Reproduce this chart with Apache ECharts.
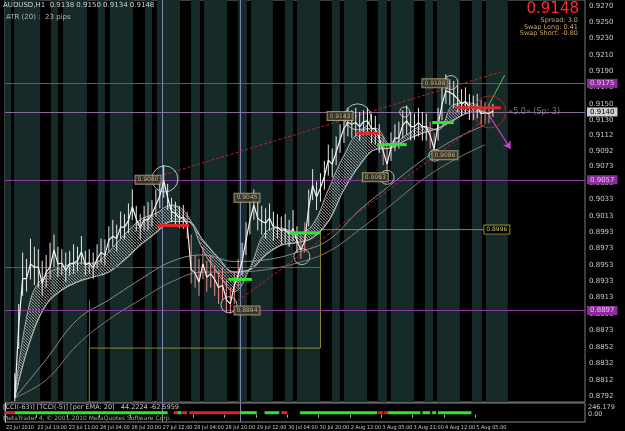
<!DOCTYPE html>
<html>
<head>
<meta charset="utf-8">
<script src="https://cdn.jsdelivr.net/npm/echarts@6/dist/echarts.min.js"></script>
<style>
html, body { margin: 0; padding: 0; background: #000; }
#chart { width: 625px; height: 431px; }
</style>
</head>
<body>
<div id="chart"></div>
<script>
// AUDUSD H1, 22 Jul - 5 Aug 2010
// x = hourly bar number counted from 22 Jul 2010 03:00
var FIRST_BAR = 5, STEP = 2;          // price sampled every 2 bars
var MA_STEP = 8, LONG_STEP = 16;

var closes = [
  0.8790, 0.8878, 0.8936, 0.8936, 0.8954, 0.8950, 0.8950, 0.8930, 0.8944, 0.8950,
  0.8971, 0.8954, 0.8955, 0.8946, 0.8954, 0.8955, 0.8958, 0.8969, 0.8953, 0.8955,
  0.8949, 0.8960, 0.8968, 0.8965, 0.8983, 0.8988, 0.8985, 0.8999, 0.8999, 0.9007,
  0.9024, 0.9009, 0.8998, 0.9008, 0.9008, 0.9015, 0.9026, 0.9037, 0.9056, 0.9035,
  0.9018, 0.9016, 0.9010, 0.9011, 0.9002, 0.8947, 0.8943, 0.8932, 0.8954, 0.8938,
  0.8942, 0.8935, 0.8925, 0.8928, 0.8910, 0.8905, 0.8927, 0.8941, 0.8957, 0.8983,
  0.9008, 0.9026, 0.9010, 0.9006, 0.9004, 0.9010, 0.8999, 0.8999, 0.8995, 0.8996,
  0.8991, 0.8997, 0.8982, 0.8971, 0.8982, 0.9023, 0.9050, 0.9036, 0.9047, 0.9061,
  0.9081, 0.9076, 0.9091, 0.9106, 0.9120, 0.9127, 0.9125, 0.9127, 0.9122, 0.9128,
  0.9129, 0.9120, 0.9119, 0.9108, 0.9092, 0.9076, 0.9097, 0.9108, 0.9108, 0.9124,
  0.9129, 0.9122, 0.9122, 0.9127, 0.9122, 0.9122, 0.9111, 0.9095, 0.9124, 0.9149,
  0.9166, 0.9164, 0.9161, 0.9156, 0.9150, 0.9153, 0.9146, 0.9145, 0.9146, 0.9138,
  0.9139, 0.9138, 0.9141
];
var highs = [
  0.8820, 0.8905, 0.8968, 0.8960, 0.8985, 0.8975, 0.8972, 0.8958, 0.8965, 0.8980,
  0.8990, 0.8975, 0.8972, 0.8968, 0.8970, 0.8978, 0.8975, 0.8988, 0.8970, 0.8972,
  0.8968, 0.8978, 0.8985, 0.8984, 0.9000, 0.9008, 0.9002, 0.9018, 0.9015, 0.9028,
  0.9045, 0.9025, 0.9015, 0.9025, 0.9030, 0.9032, 0.9045, 0.9056, 0.9075, 0.9052,
  0.9035, 0.9030, 0.9025, 0.9026, 0.9018, 0.8990, 0.8965, 0.8960, 0.8975, 0.8958,
  0.8965, 0.8952, 0.8945, 0.8950, 0.8935, 0.8925, 0.8945, 0.8960, 0.8980, 0.9005,
  0.9030, 0.9045, 0.9030, 0.9025, 0.9022, 0.9028, 0.9018, 0.9015, 0.9012, 0.9015,
  0.9008, 0.9020, 0.9000, 0.8990, 0.9005, 0.9045, 0.9070, 0.9055, 0.9065, 0.9080,
  0.9100, 0.9095, 0.9110, 0.9125, 0.9140, 0.9145, 0.9142, 0.9145, 0.9140, 0.9142,
  0.9145, 0.9138, 0.9135, 0.9125, 0.9110, 0.9095, 0.9115, 0.9125, 0.9128, 0.9142,
  0.9148, 0.9140, 0.9138, 0.9145, 0.9140, 0.9138, 0.9128, 0.9115, 0.9145, 0.9170,
  0.9186, 0.9180, 0.9178, 0.9172, 0.9168, 0.9170, 0.9162, 0.9160, 0.9162, 0.9155,
  0.9152, 0.9150, 0.9150
];
var lows = [
  0.8786, 0.8850, 0.8915, 0.8920, 0.8935, 0.8928, 0.8925, 0.8915, 0.8925, 0.8935,
  0.8950, 0.8938, 0.8940, 0.8932, 0.8940, 0.8942, 0.8945, 0.8955, 0.8940, 0.8942,
  0.8936, 0.8948, 0.8955, 0.8952, 0.8968, 0.8975, 0.8970, 0.8985, 0.8984, 0.8992,
  0.9008, 0.8994, 0.8984, 0.8995, 0.8995, 0.9000, 0.9012, 0.9022, 0.9035, 0.9020,
  0.9005, 0.9002, 0.8998, 0.8997, 0.8985, 0.8930, 0.8925, 0.8915, 0.8935, 0.8920,
  0.8925, 0.8915, 0.8905, 0.8910, 0.8895, 0.8893, 0.8905, 0.8925, 0.8940, 0.8965,
  0.8990, 0.9008, 0.8995, 0.8990, 0.8985, 0.8995, 0.8982, 0.8985, 0.8978, 0.8980,
  0.8975, 0.8982, 0.8968, 0.8960, 0.8968, 0.9000, 0.9032, 0.9020, 0.9030, 0.9045,
  0.9062, 0.9060, 0.9075, 0.9090, 0.9102, 0.9110, 0.9108, 0.9110, 0.9105, 0.9112,
  0.9112, 0.9102, 0.9100, 0.9090, 0.9075, 0.9065, 0.9080, 0.9092, 0.9095, 0.9108,
  0.9112, 0.9105, 0.9106, 0.9110, 0.9105, 0.9105, 0.9095, 0.9082, 0.9105, 0.9130,
  0.9150, 0.9148, 0.9145, 0.9140, 0.9135, 0.9138, 0.9130, 0.9130, 0.9132, 0.9124,
  0.9125, 0.9126, 0.9134
];

// moving averages (every 8 bars / every 16 bars)
var maFast = [0.8790, 0.8910, 0.8941, 0.8950, 0.8955, 0.8955, 0.8969, 0.8990, 0.9008, 0.9016,
  0.9026, 0.9014, 0.8971, 0.8941, 0.8920, 0.8949, 0.8993, 0.8998, 0.8991, 0.9002,
  0.9045, 0.9087, 0.9116, 0.9120, 0.9100, 0.9112, 0.9122, 0.9118, 0.9149, 0.9151, 0.9142];
var maSlow = [0.8790, 0.8861, 0.8904, 0.8922, 0.8932, 0.8938, 0.8944, 0.8959, 0.8977, 0.8992,
  0.9006, 0.9006, 0.8983, 0.8961, 0.8944, 0.8947, 0.8965, 0.8977, 0.8980, 0.8986,
  0.9006, 0.9045, 0.9075, 0.9094, 0.9096, 0.9106, 0.9114, 0.9120, 0.9130, 0.9139, 0.9140];
var maLong1 = [0.8790, 0.8837, 0.8886, 0.8910, 0.8935, 0.8957, 0.8965, 0.8957, 0.8959, 0.8968,
  0.8983, 0.9020, 0.9051, 0.9081, 0.9106, 0.9124];
var maLong2 = [0.8790, 0.8812, 0.8855, 0.8886, 0.8910, 0.8932, 0.8944, 0.8944, 0.8947, 0.8955,
  0.8969, 0.8996, 0.9026, 0.9057, 0.9081, 0.9100];

// axes
var timeTicks = [0, 16, 32, 48, 64, 80, 96, 112, 128, 144, 160, 176, 192, 208, 224, 240];
var timeLabels = ['22 Jul 2010', '22 Jul 19:00', '23 Jul 11:00', '26 Jul 04:00', '26 Jul 20:00',
  '27 Jul 12:00', '28 Jul 04:00', '28 Jul 20:00', '29 Jul 12:00', '30 Jul 04:00', '30 Jul 20:00',
  '2 Aug 12:00', '3 Aug 05:00', '3 Aug 21:00', '4 Aug 12:00', '5 Aug 05:00'];
var priceTicks = [0.9270, 0.9250, 0.9230, 0.9210, 0.9190, 0.9170, 0.9150, 0.9130, 0.9112, 0.9092,
  0.9073, 0.9053, 0.9033, 0.9013, 0.8993, 0.8973, 0.8953, 0.8933, 0.8913, 0.8893,
  0.8873, 0.8852, 0.8832, 0.8812, 0.8792];
var cciTicks = [246.179, 0, -186.209];

// shaded sessions (bar ranges)
var sessionStart = [0, 4.6, 23.5, 29.6, 47.4, 53.6, 71.4, 77.6, 94.9, 101.5, 118.9,
  125.5, 142.9, 149, 166.8, 173, 190.3, 196.9, 214.3, 220.4, 238.3, 245.4];
var sessionEnd = [3.1, 17.9, 27, 41.8, 51, 65.3, 75, 89.3, 99.5, 113.3, 123.5,
  136.7, 147, 160.7, 170.9, 184.7, 194.9, 208.7, 218.4, 232.1, 243.4, 256.6];

// levels
var purpleLevels = [0.9175, 0.9057, 0.8897];
var bidLevel = 0.9140;
var shortLevel = 0.8950, shortLevelEnd = 161;
var stepBars = [43, 43, 161, 161, 252];
var stepVals = [0.8785, 0.8851, 0.8851, 0.8996, 0.8996];

// support / resistance segments: start bar, end bar, level, 1 = green / -1 = red
var segStart = [78, 179, 230, 114, 145, 190, 218];
var segEnd = [94, 191, 253, 126, 161, 205, 229];
var segLevel = [0.9001, 0.9114, 0.9145, 0.8935, 0.8992, 0.9100, 0.9127];
var segDir = [-1, -1, -1, 1, 1, 1, 1];

// channel lines
var trendFrom = [[81, 0.9063], [115, 0.8902]];
var trendTo = [[253, 0.9189], [250, 0.9140]];

// fractal circles and price tags
var circBars = [81.6, 114.3, 151.5, 180, 195, 204, 219.4, 227.6];
var circVals = [0.9058, 0.8904, 0.8963, 0.9134, 0.9060, 0.9140, 0.9087, 0.9176];
var tagBars = [73, 123.5, 123.5, 171, 189, 224.5, 219.4];
var tagVals = [0.9057, 0.9035, 0.8897, 0.9135, 0.9060, 0.9087, 0.9175];
var tagText = ['0.9080', '0.9045', '0.8894', '0.9143', '0.9063', '0.9086', '0.9186'];

// CCI trend strip: start bar, end bar, 1 = up / -1 = down
var cciStart = [0, 5, 86, 88, 90, 94, 120, 132.5, 141, 150.5, 190.5, 193.5, 195.5, 213, 218, 221];
var cciEnd = [5, 83, 88, 90, 93, 120, 128.5, 140, 144, 190, 193, 195.5, 212, 217, 220, 238];
var cciDir = [-1, 1, -1, 1, -1, -1, 1, 1, -1, 1, -1, -1, 1, 1, 1, 1];

// ---------------------------------------------------------------
var circSize = [26, 16, 16, 26, 14, 10, 12, 14];
var FONT = 'DejaVu Sans';
var COND = "'DejaVu Sans Condensed', 'DejaVu Sans', sans-serif";
var PURPLE = '#8a3a9c';

var hatch = document.createElement('canvas');
hatch.width = 3; hatch.height = 3;
var hc = hatch.getContext('2d');
hc.fillStyle = 'rgba(200,200,200,0.65)';
hc.fillRect(0, 0, 1, 1); hc.fillRect(1, 1, 1, 1); hc.fillRect(2, 2, 1, 1);
hc.fillStyle = 'rgba(130,130,130,0.4)';
hc.fillRect(2, 0, 1, 1); hc.fillRect(0, 2, 1, 1);

var priceData = closes.map(function (v, i) { return [FIRST_BAR + i * STEP, v]; });
var wickData = closes.map(function (v, i) {
  var k = Math.round(i * STEP / MA_STEP);
  return [FIRST_BAR + i * STEP, highs[i], lows[i], v < maSlow[k] ? 1 : 0];
});
function maData(arr, step) {
  return arr.map(function (v, i) { return [FIRST_BAR + i * step, v]; });
}

var sessionAreas = sessionStart.map(function (s, i) {
  return [{ xAxis: s }, { xAxis: sessionEnd[i] }];
});

var levelLines = purpleLevels.map(function (v) {
  return {
    yAxis: v,
    label: {
      show: true, position: 'end', distance: 2, formatter: v.toFixed(4),
      backgroundColor: '#8e2a9e', color: '#e6c0ee', fontSize: 7, fontFamily: FONT, padding: [1, 3]
    }
  };
});
levelLines.push({
  yAxis: bidLevel,
  lineStyle: { color: '#8a6c9c' },
  label: {
    show: true, position: 'end', distance: 2, formatter: bidLevel.toFixed(4),
    backgroundColor: '#d0d0d0', color: '#000', fontSize: 7, fontFamily: FONT, padding: [1, 3]
  }
});
levelLines.push([{ coord: [0, shortLevel] }, { coord: [shortLevelEnd, shortLevel] }]);
levelLines.push({ xAxis: 80, lineStyle: { color: '#7c84b4' } });
levelLines.push({ xAxis: 120, lineStyle: { color: '#7c84b4' } });
levelLines.push([
  { coord: [43, 0.8785], lineStyle: { color: '#b030a8' } },
  { coord: [43, 0.8910] }
]);

var trendLines = trendFrom.map(function (a, i) {
  return [{ coord: a }, { coord: trendTo[i] }];
});
trendLines.push([{ coord: [247, 0.9149], lineStyle: { color: '#40d040', type: 'solid' } }, { coord: [255, 0.9185] }]);
trendLines.push([{ coord: [247, 0.9136], lineStyle: { color: '#d040d8', type: 'solid', width: 1.2 }, symbol: 'none' },
  { coord: [258, 0.9095], symbol: 'arrow', symbolSize: 7 }]);

var chart = echarts.init(document.getElementById('chart'), null, { renderer: 'canvas' });

function txt(pos, text, fill, font) {
  var g = { type: 'text', z: 100, style: { text: text, fill: fill, font: font } };
  for (var k in pos) g[k] = pos[k];
  return g;
}

var option = {
  backgroundColor: '#000',
  animation: false,
  textStyle: { fontFamily: FONT },
  grid: [
    { left: 5, right: 40, top: 0, height: 402, show: true, borderColor: '#7a7a7a', borderWidth: 1, backgroundColor: 'transparent' },
    { left: 5, right: 40, top: 403, height: 19, show: true, borderColor: '#8a8a8a', borderWidth: 1, backgroundColor: 'transparent' }
  ],
  xAxis: [
    { type: 'value', gridIndex: 0, min: 0, max: 296, show: false },
    {
      type: 'value', gridIndex: 1, min: 0, max: 296,
      axisLine: { show: false },
      splitLine: { show: false },
      axisTick: { show: true, customValues: timeTicks, length: 3, lineStyle: { color: '#b0b0b0' } },
      axisLabel: {
        customValues: timeTicks, color: '#c8c8c8', fontSize: 5.5, fontFamily: COND, margin: 3, align: 'left',
        padding: [0, 0, 0, 1], showMinLabel: true, hideOverlap: false,
        formatter: function (v) { var k = timeTicks.indexOf(v); return k >= 0 ? timeLabels[k] : ''; }
      }
    }
  ],
  yAxis: [
    {
      type: 'value', gridIndex: 0, position: 'right', min: 0.8785, max: 0.9277,
      axisLine: { show: true, lineStyle: { color: '#c8c8c8' } },
      splitLine: { show: false },
      axisTick: { show: true, customValues: priceTicks, length: 3, lineStyle: { color: '#c8c8c8' } },
      axisLabel: {
        customValues: priceTicks, color: '#c8c8c8', fontSize: 7, margin: 4,
        formatter: function (v) { return v.toFixed(4); }
      }
    },
    {
      type: 'value', gridIndex: 1, position: 'right', min: -240, max: 386,
      axisLine: { show: true, lineStyle: { color: '#c8c8c8' } },
      splitLine: { show: false },
      axisTick: { show: false },
      axisLabel: {
        customValues: cciTicks, color: '#c8c8c8', fontSize: 6.5, margin: 3,
        formatter: function (v) { return v === 0 ? '0.00' : v.toFixed(3); }
      }
    }
  ],
  graphic: [
    txt({ left: 3, top: 2 }, 'AUDUSD,H1  0.9138 0.9150 0.9134 0.9148', '#d0d0d0', '7px ' + FONT),
    txt({ left: 6, top: 14 }, 'ATR (20) :  23 pips', '#b8b8b8', '7px ' + FONT),
    txt({ right: 46, top: 2 }, '0.9148', '#ff2c2c', '15px ' + FONT),
    txt({ right: 47, top: 17 }, 'Spread: 3.0', '#c8a46c', '6.5px ' + FONT),
    txt({ right: 47, top: 24 }, 'Swap Long: 0.41', '#c8a46c', '6.5px ' + FONT),
    txt({ right: 47, top: 30 }, 'Swap Short: -0.80', '#c8a46c', '6.5px ' + FONT),
    txt({ left: 3, top: 403.5 }, '[CCI(-63)] [TCCI(-5)] [per EMA: 20]   44.2224 -62.5959', '#c8c8c8', '6.5px ' + FONT),
    txt({ left: 3, top: 415.5 }, 'MetaTrader 4, \u00a9 2001-2010 MetaQuotes Software Corp.', '#a8a8a8', '6px ' + FONT)
  ],
  series: [
    {
      // sessions, level lines
      type: 'line', xAxisIndex: 0, yAxisIndex: 0, data: [], z: 1, silent: true,
      markArea: { silent: true, itemStyle: { color: '#172a2a' }, data: sessionAreas },
      markLine: { silent: true, symbol: 'none', precision: 6, label: { show: false },
        lineStyle: { color: PURPLE, width: 1, type: 'solid', opacity: 1 }, data: levelLines }
    },
    {
      // olive step level
      type: 'line', xAxisIndex: 0, yAxisIndex: 0, z: 3, silent: true, symbol: 'none',
      data: stepVals.map(function (v, i) { return [stepBars[i], v]; }),
      lineStyle: { color: '#8c8c24', width: 1 },
      markPoint: {
        symbol: 'rect', symbolSize: 0, precision: 6,
        data: [{ coord: [251, 0.8996], value: '0.8996' }],
        label: { show: true, color: '#c8c860', fontSize: 6, backgroundColor: '#000', borderColor: '#8c8c24', borderWidth: 1, padding: [1, 2] }
      }
    },
    {
      // ribbon mesh between fast and slow averages
      type: 'custom', xAxisIndex: 0, yAxisIndex: 0, z: 3, silent: true,
      data: [[FIRST_BAR, maFast[0]]],
      renderItem: function (params, api) {
        var pts = [];
        for (var i = 0; i < maFast.length; i++) pts.push(api.coord([FIRST_BAR + i * MA_STEP, maFast[i]]));
        for (var j = maSlow.length - 1; j >= 0; j--) pts.push(api.coord([FIRST_BAR + j * MA_STEP, maSlow[j]]));
        return { type: 'polygon', shape: { points: pts, smooth: 0.3 }, style: { fill: { image: hatch, repeat: 'repeat' } } };
      }
    },
    { type: 'line', xAxisIndex: 0, yAxisIndex: 0, z: 4, silent: true, symbol: 'none', smooth: 0.4,
      data: maData(maLong2, LONG_STEP), lineStyle: { color: '#8a7868', width: 1 } },
    { type: 'line', xAxisIndex: 0, yAxisIndex: 0, z: 4, silent: true, symbol: 'none', smooth: 0.4,
      data: maData(maLong1, LONG_STEP), lineStyle: { color: '#8c8c8c', width: 1 } },
    { type: 'line', xAxisIndex: 0, yAxisIndex: 0, z: 4, silent: true, symbol: 'none', smooth: 0.4,
      data: maData(maSlow, MA_STEP), lineStyle: { color: '#b4b4b4', width: 1.2 } },
    { type: 'line', xAxisIndex: 0, yAxisIndex: 0, z: 4, silent: true, symbol: 'none', smooth: 0.4,
      data: maData(maFast, MA_STEP), lineStyle: { color: '#c8c8c8', width: 0.8 } },
    {
      // candle wicks
      type: 'custom', xAxisIndex: 0, yAxisIndex: 0, z: 5, silent: true,
      data: wickData, encode: { x: 0, y: [1, 2] },
      renderItem: function (params, api) {
        var a = api.coord([api.value(0), api.value(1)]);
        var b = api.coord([api.value(0), api.value(2)]);
        return { type: 'line', shape: { x1: a[0], y1: a[1], x2: b[0], y2: b[1] },
          style: { stroke: api.value(3) ? '#e88a8a' : '#e6e6e6', lineWidth: 1 } };
      }
    },
    {
      type: 'line', xAxisIndex: 0, yAxisIndex: 0, z: 6, silent: true, symbol: 'none',
      data: priceData, lineStyle: { color: '#f2f2f2', width: 1.2 }
    },
    {
      // support / resistance bars
      type: 'custom', xAxisIndex: 0, yAxisIndex: 0, z: 7, silent: true,
      data: segStart.map(function (s, i) { return [s, segEnd[i], segLevel[i], segDir[i]]; }),
      encode: { x: [0, 1], y: 2 },
      renderItem: function (params, api) {
        var a = api.coord([api.value(0), api.value(2)]);
        var b = api.coord([api.value(1), api.value(2)]);
        return { type: 'rect', shape: { x: a[0], y: a[1] - 1.5, width: b[0] - a[0], height: 3 },
          style: { fill: api.value(3) > 0 ? '#2ee62e' : '#e02828' } };
      }
    },
    {
      // channel lines and projections
      type: 'line', xAxisIndex: 0, yAxisIndex: 0, data: [], z: 7, silent: true,
      markLine: { silent: true, symbol: 'none', precision: 6, label: { show: false },
        lineStyle: { color: '#c42424', width: 1, type: [3, 2] }, data: trendLines }
    },
    {
      type: 'scatter', xAxisIndex: 0, yAxisIndex: 0, z: 8, silent: true,
      data: circBars.map(function (b, i) { return [b, circVals[i]]; }),
      symbol: 'circle',
      symbolSize: function (v, p) { return circSize[p.dataIndex]; },
      itemStyle: { color: 'rgba(0,0,0,0)', borderColor: '#e0e0e0', borderWidth: 1 }
    },
    {
      type: 'scatter', xAxisIndex: 0, yAxisIndex: 0, z: 8, silent: true,
      data: [[247.4, 0.9140]], symbol: 'circle', symbolSize: 32,
      itemStyle: { color: 'rgba(0,0,0,0)', borderColor: '#c02828', borderWidth: 1 },
      label: { show: true, position: 'right', distance: 2, formatter: '\u00ab5.0\u00bb (Sp: 3)', color: '#9a9a9a', fontSize: 8 }
    },
    {
      type: 'scatter', xAxisIndex: 0, yAxisIndex: 0, z: 9, silent: true,
      data: tagBars.map(function (b, i) { return { value: [b, tagVals[i]], name: tagText[i] }; }),
      symbolSize: 1, itemStyle: { color: 'rgba(0,0,0,0)' },
      label: { show: true, position: 'inside', formatter: '{b}', color: '#e0d2a8', fontSize: 6,
        backgroundColor: '#3a3424', borderColor: '#bfae86', borderWidth: 1, padding: [1, 2] }
    },
    {
      // CCI trend strip
      type: 'custom', xAxisIndex: 1, yAxisIndex: 1, z: 5, silent: true,
      data: cciStart.map(function (s, i) { return [s, cciEnd[i], cciDir[i]]; }),
      encode: { x: [0, 1] },
      renderItem: function (params, api) {
        var a = api.coord([api.value(0), 0]);
        var b = api.coord([api.value(1), 0]);
        return { type: 'rect', shape: { x: a[0], y: a[1] - 3.5, width: b[0] - a[0], height: 3 },
          style: { fill: api.value(2) > 0 ? '#2ee62e' : '#d82626' } };
      },
      markLine: { silent: true, symbol: 'none', label: { show: false },
        lineStyle: { color: '#7c84b4', width: 1, type: 'solid' },
        data: [{ xAxis: 80 }, { xAxis: 120 }] }
    }
  ]
};

chart.setOption(option);
</script>
</body>
</html>
